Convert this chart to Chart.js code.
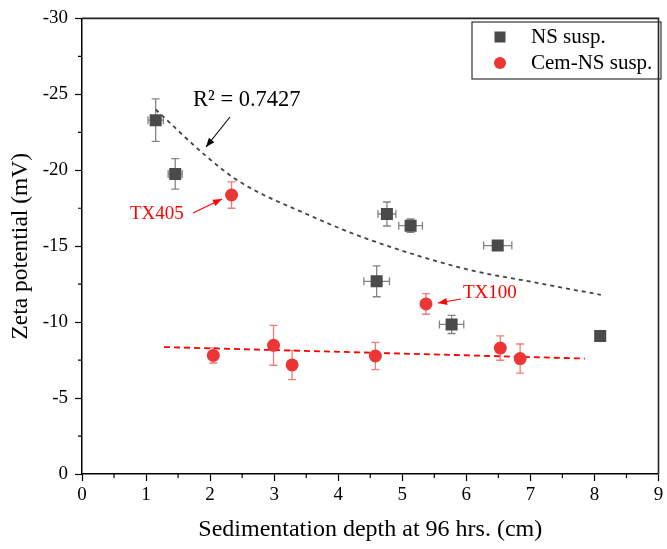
<!DOCTYPE html>
<html>
<head>
<meta charset="utf-8">
<script src="https://cdn.jsdelivr.net/npm/chart.js@4/dist/chart.umd.min.js"></script>
<style>
html,body{margin:0;padding:0;background:#fff;}
#wrap{width:667px;height:549px;position:relative;}
</style>
</head>
<body>
<div id="wrap"><canvas id="c" width="667" height="549"></canvas></div>
<script>
// ---- data ----
const nsX    = [1.15, 1.455, 4.60, 4.76, 5.13, 5.77, 6.49, 8.09];
const nsY    = [-23.3, -19.76, -12.69, -17.12, -16.35, -9.85, -15.04, -9.08];
const nsYErr = [1.40, 1.00, 1.02, 0.79, 0.44, 0.60, 0.15, 0.30];
const nsXErr = [0.12, 0.11, 0.20, 0.14, 0.185, 0.19, 0.22, 0.05];

const cemX    = [2.05, 2.335, 2.99, 3.28, 4.58, 5.37, 6.53, 6.84];
const cemY    = [-7.81, -18.37, -8.47, -7.18, -7.77, -11.2, -8.29, -7.60];
const cemYErr = [0.50, 0.87, 1.31, 0.96, 0.90, 0.68, 0.80, 0.96];

// fitted trend lines
const nsFitX = [1.15, 1.92, 2.44, 3.57, 4.44, 5.99, 7.02, 8.10];
const nsFitY = [-24.0, -21.0, -19.3, -17.0, -15.5, -13.5, -12.65, -11.8];
const cemFitX = [1.28, 7.85];
const cemFitY = [-8.36, -7.60];

const xTicks = [0,1,2,3,4,5,6,7,8,9];
const yTicks = [-30,-25,-20,-15,-10,-5,0];

const seriesNames = ['NS susp.', 'Cem-NS susp.'];
const r2Label = 'R² = 0.7427';
const tx405Label = 'TX405';
const tx100Label = 'TX100';

const FONT = '"Liberation Serif", "Times New Roman", serif';
const nsColor = '#4a4a4a';
const cemColor = '#ec3636';

const pts = (xs, ys) => xs.map((x, i) => ({x: x, y: ys[i]}));

const errPlugin = {
  id: 'errbars',
  beforeDatasetsDraw(chart) {
    const ctx = chart.ctx, xs = chart.scales.x, ys = chart.scales.y;
    ctx.save();
    ctx.lineWidth = 1.3;
    const draw = (X, Y, YE, XE, color) => {
      ctx.strokeStyle = color;
      for (let i = 0; i < X.length; i++) {
        const px = xs.getPixelForValue(X[i]);
        const py = ys.getPixelForValue(Y[i]);
        const y1 = ys.getPixelForValue(Y[i] - YE[i]);
        const y2 = ys.getPixelForValue(Y[i] + YE[i]);
        ctx.beginPath();
        ctx.moveTo(px, y1); ctx.lineTo(px, y2);
        ctx.moveTo(px - 4, y1); ctx.lineTo(px + 4, y1);
        ctx.moveTo(px - 4, y2); ctx.lineTo(px + 4, y2);
        if (XE) {
          const x1 = xs.getPixelForValue(X[i] - XE[i]);
          const x2 = xs.getPixelForValue(X[i] + XE[i]);
          ctx.moveTo(x1, py); ctx.lineTo(x2, py);
          ctx.moveTo(x1, py - 4); ctx.lineTo(x1, py + 4);
          ctx.moveTo(x2, py - 4); ctx.lineTo(x2, py + 4);
        }
        ctx.stroke();
      }
    };
    draw(nsX, nsY, nsYErr, nsXErr, 'rgba(110,110,110,0.85)');
    draw(cemX, cemY, cemYErr, null, 'rgba(240,110,110,0.9)');
    ctx.restore();
  }
};

const decoPlugin = {
  id: 'deco',
  afterDraw(chart) {
    const ctx = chart.ctx, a = chart.chartArea, xs = chart.scales.x, ys = chart.scales.y;
    ctx.save();
    // frame top & right
    ctx.strokeStyle = '#222';
    ctx.lineWidth = 1.6;
    ctx.beginPath();
    ctx.moveTo(a.left, a.top); ctx.lineTo(a.right, a.top); ctx.lineTo(a.right, a.bottom);
    ctx.stroke();
    // minor ticks
    ctx.strokeStyle = '#000';
    ctx.lineWidth = 1.2;
    ctx.beginPath();
    for (let v = 0.5; v < 9; v += 1) {
      const px = xs.getPixelForValue(v);
      ctx.moveTo(px, a.bottom); ctx.lineTo(px, a.bottom + 4);
    }
    for (let v = -27.5; v < 0; v += 5) {
      const py = ys.getPixelForValue(v);
      ctx.moveTo(a.left, py); ctx.lineTo(a.left - 4, py);
    }
    ctx.stroke();

    // legend box
    const lx = 472, ly = 22, lw = 189, lh = 57;
    ctx.strokeStyle = '#333';
    ctx.lineWidth = 1.2;
    ctx.strokeRect(lx, ly, lw, lh);
    ctx.fillStyle = nsColor;
    ctx.fillRect(500 - 5.5, 37 - 5.5, 11, 11);
    ctx.fillStyle = cemColor;
    ctx.beginPath(); ctx.arc(500, 63, 6, 0, Math.PI * 2); ctx.fill();
    ctx.fillStyle = '#000';
    ctx.font = '21px ' + FONT;
    ctx.textBaseline = 'middle';
    ctx.textAlign = 'left';
    ctx.fillText(seriesNames[0], 531, 37);
    ctx.fillText(seriesNames[1], 531, 63);

    // R^2 annotation
    ctx.font = '22.5px ' + FONT;
    ctx.fillStyle = '#000';
    ctx.fillText(r2Label, 193, 100);
    const arrow = (x1, y1, x2, y2, color) => {
      ctx.strokeStyle = color; ctx.fillStyle = color; ctx.lineWidth = 1.1;
      ctx.beginPath(); ctx.moveTo(x1, y1); ctx.lineTo(x2, y2); ctx.stroke();
      const ang = Math.atan2(y2 - y1, x2 - x1), L = 9, W = 3.5;
      ctx.beginPath();
      ctx.moveTo(x2, y2);
      ctx.lineTo(x2 - L * Math.cos(ang) + W * Math.sin(ang), y2 - L * Math.sin(ang) - W * Math.cos(ang));
      ctx.lineTo(x2 - L * Math.cos(ang) - W * Math.sin(ang), y2 - L * Math.sin(ang) + W * Math.cos(ang));
      ctx.closePath(); ctx.fill();
    };
    arrow(230, 117, 206, 147, '#000');

    // TX labels
    ctx.fillStyle = '#ff0000';
    ctx.font = '19px ' + FONT;
    ctx.fillText(tx405Label, 130, 214);
    arrow(193, 213, 222, 199, '#ff0000');
    ctx.fillStyle = '#ff0000';
    ctx.fillText(tx100Label, 463, 293);
    arrow(461, 299, 438, 303, '#ff0000');
    ctx.restore();
  }
};

new Chart(document.getElementById('c'), {
  type: 'scatter',
  data: {
    datasets: [
      {label: seriesNames[0], data: pts(nsX, nsY), pointStyle: 'rect', pointRadius: 8.5,
       backgroundColor: nsColor, borderColor: nsColor, borderWidth: 0, order: 1},
      {label: seriesNames[1], data: pts(cemX, cemY), pointStyle: 'circle', pointRadius: 6.5,
       backgroundColor: cemColor, borderColor: cemColor, borderWidth: 0, order: 1},
      {label: 'fitNS', type: 'line', data: pts(nsFitX, nsFitY), showLine: true, pointRadius: 0,
       borderColor: '#444', borderWidth: 1.8, borderDash: [4, 4], tension: 0.4,
       cubicInterpolationMode: 'monotone', fill: false, order: 2},
      {label: 'fitCem', type: 'line', data: pts(cemFitX, cemFitY), showLine: true, pointRadius: 0,
       borderColor: '#ff0000', borderWidth: 1.8, borderDash: [6, 4], fill: false, order: 2}
    ]
  },
  options: {
    responsive: false,
    animation: false,
    devicePixelRatio: 1,
    layout: {padding: {top: 17, right: 3, left: 0, bottom: 0}},
    plugins: {legend: {display: false}, tooltip: {enabled: false}},
    scales: {
      x: {
        type: 'linear', min: 0, max: 9,
        afterFit: s => { s.height = 75; },
        afterBuildTicks: s => { s.ticks = xTicks.map(v => ({value: v})); },
        ticks: {color: '#000', font: {family: FONT, size: 19}, padding: 3, maxRotation: 0},
        grid: {drawOnChartArea: false, drawTicks: true, tickLength: 7, tickColor: '#000', tickWidth: 1.2},
        border: {display: true, color: '#000', width: 1.5},
        title: {display: true, text: 'Sedimentation depth at 96 hrs. (cm)', color: '#000',
                font: {family: FONT, size: 24}, padding: {top: 4, bottom: 5}}
      },
      y: {
        type: 'linear', min: -30, max: 0, reverse: true,
        afterFit: s => { s.width = 82; },
        afterBuildTicks: s => { s.ticks = yTicks.map(v => ({value: v})); },
        ticks: {color: '#000', font: {family: FONT, size: 19}, padding: 7},
        grid: {drawOnChartArea: false, drawTicks: true, tickLength: 7, tickColor: '#000', tickWidth: 1.2},
        border: {display: true, color: '#000', width: 1.5},
        title: {display: true, text: 'Zeta potential (mV)', color: '#000',
                font: {family: FONT, size: 23.5}, padding: {top: 7, bottom: 4}}
      }
    }
  },
  plugins: [errPlugin, decoPlugin]
});
</script>
</body>
</html>
